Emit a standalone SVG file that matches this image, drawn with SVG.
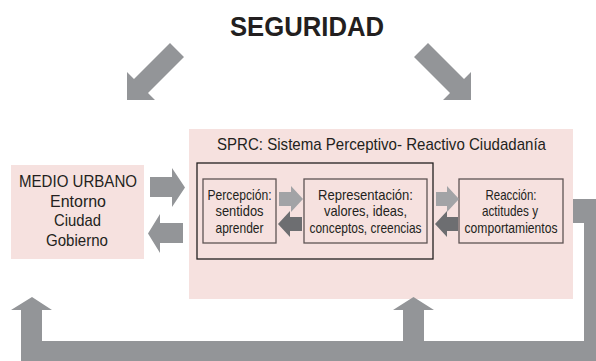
<svg xmlns="http://www.w3.org/2000/svg" width="596" height="361" viewBox="0 0 596 361">
<style>
text{font-family:"Liberation Sans",Arial,sans-serif;fill:#231f20;text-anchor:middle}
.pink{fill:#f6e1df}
.box{fill:#f6e1df;stroke:#5e5354;stroke-width:1.3}
.frame{fill:none;stroke:#231f20;stroke-width:1.3}
.g{fill:#939598}
.lt{fill:#a2a3a6}
.dk{fill:#6d6e71}
.t14{font-size:15px}
.t17{font-size:17px}
</style>
<rect width="596" height="361" fill="#ffffff"/>
<g id="title">
<text x="307" y="36" font-size="28" font-weight="bold" textLength="154" lengthAdjust="spacingAndGlyphs">SEGURIDAD</text>
</g>
<g id="sprc">
<rect class="pink" x="189" y="129" width="384" height="170"/>
<text class="t17" x="381.5" y="150" textLength="329" lengthAdjust="spacingAndGlyphs">SPRC: Sistema Perceptivo- Reactivo Ciudadanía</text>
<rect class="frame" x="197" y="163" width="236" height="96"/>
</g>
<g id="medio">
<rect class="pink" x="11" y="165" width="133" height="94"/>
<text class="t17" x="78" y="187" textLength="118" lengthAdjust="spacingAndGlyphs">MEDIO URBANO</text>
<text class="t17" x="78" y="207" textLength="56" lengthAdjust="spacingAndGlyphs">Entorno</text>
<text class="t17" x="77.5" y="226" textLength="47" lengthAdjust="spacingAndGlyphs">Ciudad</text>
<text class="t17" x="77" y="246" textLength="62" lengthAdjust="spacingAndGlyphs">Gobierno</text>
</g>
<g id="percepcion">
<rect class="box" x="203" y="179" width="73" height="64"/>
<text class="t14" x="239.5" y="199.5" textLength="64" lengthAdjust="spacingAndGlyphs">Percepción:</text>
<text class="t14" x="239.5" y="216" textLength="48" lengthAdjust="spacingAndGlyphs">sentidos</text>
<text class="t14" x="239.5" y="232.5" textLength="48" lengthAdjust="spacingAndGlyphs">aprender</text>
</g>
<g id="representacion">
<rect class="box" x="304" y="179" width="123" height="64"/>
<text class="t14" x="365.5" y="199.5" textLength="95" lengthAdjust="spacingAndGlyphs">Representación:</text>
<text class="t14" x="365.5" y="216" textLength="83" lengthAdjust="spacingAndGlyphs">valores, ideas,</text>
<text class="t14" x="365.5" y="232.5" textLength="112" lengthAdjust="spacingAndGlyphs">conceptos, creencias</text>
</g>
<g id="reaccion">
<rect class="box" x="459" y="179" width="104" height="64"/>
<text class="t14" x="511" y="199.5" textLength="51" lengthAdjust="spacingAndGlyphs">Reacción:</text>
<text class="t14" x="510" y="216" textLength="56" lengthAdjust="spacingAndGlyphs">actitudes y</text>
<text class="t14" x="511" y="232.5" textLength="93" lengthAdjust="spacingAndGlyphs">comportamientos</text>
</g>
<g id="connectors">
<polygon class="g" points="127,100 127,72 134,79 170,43 184,57 148,93 155,100"/>
<polygon class="g" points="471,100 471,72 464,79 428,43 414,57 450,93 443,100"/>
<polygon class="g" points="150,177 172,177 172,168 185,187.5 172,207 172,197 150,197"/>
<polygon class="g" points="183,223 160,223 160,214 148,233.5 160,253 160,243 183,243"/>
<polygon class="lt" points="279,192 291,192 291,186 303,199 291,212 291,206 279,206"/>
<polygon class="dk" points="302,217 290,217 290,211 278,224 290,237 290,231 302,231"/>
<polygon class="lt" points="436,192 447,192 447,186 459,199 447,212 447,206 436,206"/>
<polygon class="dk" points="458,217 447,217 447,211 435,224 447,237 447,231 458,231"/>
<polygon class="g" points="573,199 596,199 596,361 21,361 21,310 11,310 32,297 52,310 42,310 42,341 403,341 403,310 393,310 413.5,297 434,310 424,310 424,341 584,341 584,223 573,223"/>
</g>
</svg>
